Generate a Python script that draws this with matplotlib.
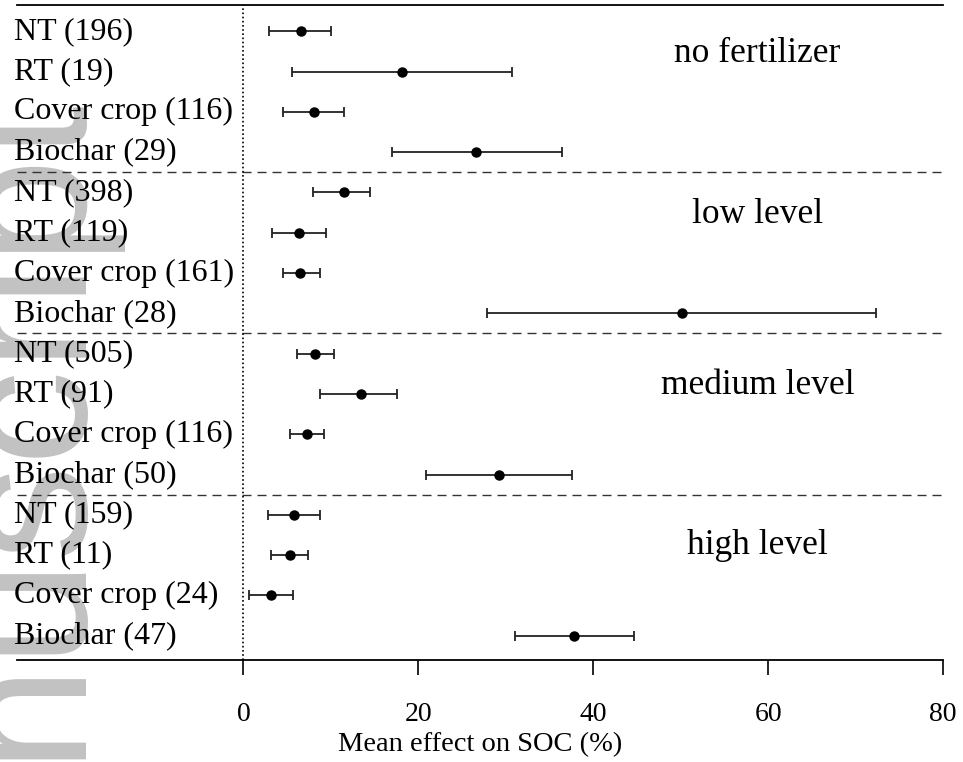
import numpy as np
import matplotlib
matplotlib.use("Agg")
import matplotlib.pyplot as plt

# Data (mean effect on SOC, %, with CI bounds)
groups = ["no fertilizer", "low level", "medium level", "high level"]
labels = [
    "NT (196)", "RT (19)", "Cover crop (116)", "Biochar (29)",
    "NT (398)", "RT (119)", "Cover crop (161)", "Biochar (28)",
    "NT (505)", "RT (91)", "Cover crop (116)", "Biochar (50)",
    "NT (159)", "RT (11)", "Cover crop (24)", "Biochar (47)",
]
means = [6.6, 18.1, 8.1, 26.6,
         11.5, 6.3, 6.5, 50.1,
         8.2, 13.4, 7.3, 29.2,
         5.8, 5.3, 3.2, 37.8]
lower = [2.9, 5.5, 4.5, 17.0,
         8.0, 3.3, 4.5, 27.8,
         6.1, 8.8, 5.3, 20.9,
         2.8, 3.1, 0.6, 31.1]
upper = [10.0, 30.7, 11.5, 36.4,
         14.5, 9.4, 8.7, 72.3,
         10.3, 17.6, 9.2, 37.6,
         8.7, 7.4, 5.7, 44.7]
group_label_y = [15.45, 11.45, 7.2, 3.23]

plt.rcParams["font.family"] = ["Liberation Serif", "DejaVu Serif"]

fig = plt.figure(figsize=(9.63, 7.62), dpi=100)
ax = fig.add_axes([0.0177, 0.134, 0.9615, 0.8594])
ax.set_facecolor("none")

# faint "Manuscript" watermark bleeding in from the left edge
fig.text(0.074, -0.338, "Manuscript", rotation=90, rotation_mode="anchor",
         ha="left", va="baseline", fontsize=137, color="#c2c2c2",
         family="Liberation Sans", zorder=-5)

n = len(labels)
y = np.arange(n, 0, -1)
means = np.array(means)
err = np.vstack([means - np.array(lower), np.array(upper) - means])

ax.errorbar(means, y, xerr=err, fmt="o", color="black", ms=6.5,
            ecolor="#222222", elinewidth=1.3, capsize=3.6, capthick=1.3, zorder=3)

for yi, lab in zip(y, labels):
    ax.text(-26.3, yi, lab, ha="left", va="center", fontsize=23)

for g, gy in zip(groups, group_label_y):
    ax.text(58.8, gy, g, ha="center", va="center", fontsize=25.5)

for sep in [12.5, 8.5, 4.5]:
    ax.axhline(sep, color="#333333", lw=1.0, ls=(0, (6.5, 4.3)))
ax.axvline(0, color="black", lw=1.2, ls=(0, (1, 1.5)))

ax.set_xlim(-25.9, 80)
ax.set_ylim(0.4, 16.65)
ax.set_xticks([0, 20, 40, 60, 80])
ax.set_yticks([])
ax.tick_params(axis="x", direction="out", length=11, width=1.2, pad=19, labelsize=20)
for s in ["left", "right"]:
    ax.spines[s].set_visible(False)
ax.spines["top"].set_linewidth(1.3)
ax.spines["bottom"].set_linewidth(1.3)
ax.set_xlabel("Mean effect on SOC (%)", fontsize=20.5, labelpad=4)

fig.savefig("out.png", dpi=100)
